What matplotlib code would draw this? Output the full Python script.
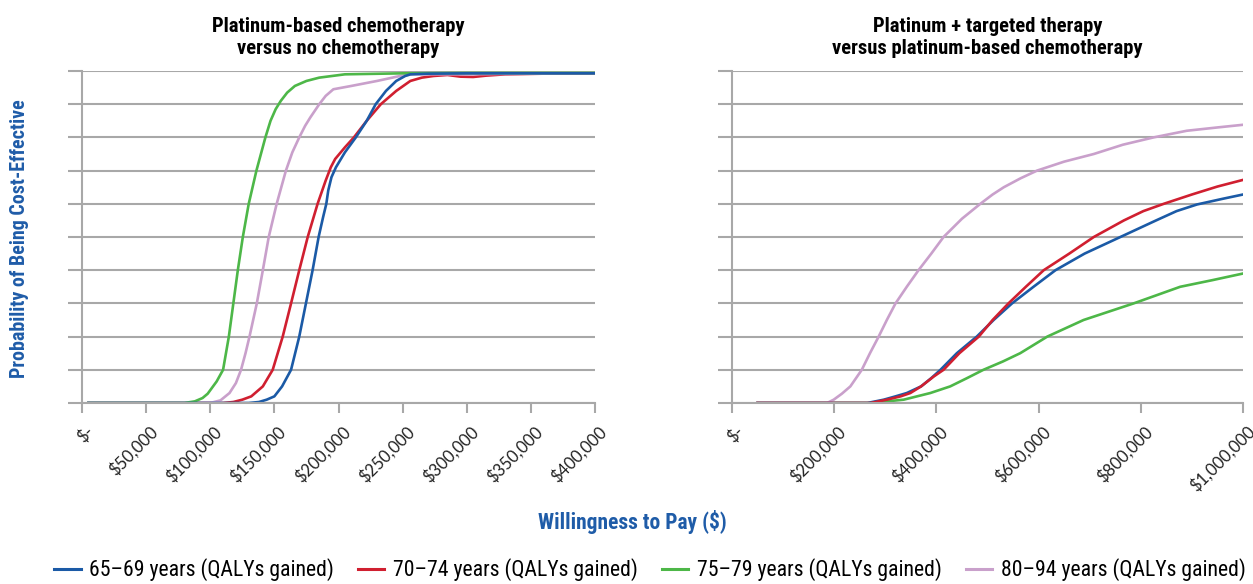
import matplotlib
matplotlib.use("Agg")
import matplotlib.pyplot as plt
from matplotlib import font_manager
from matplotlib.lines import Line2D
from matplotlib.ticker import FuncFormatter
from matplotlib.transforms import ScaledTranslation

# Data (willingness to pay in $1000s, probability)
labels = ['65–69 years (QALYs gained)', '70–74 years (QALYs gained)',
          '75–79 years (QALYs gained)', '80–94 years (QALYs gained)']
colors = ['#1b5aa6', '#d01f30', '#4db748', '#c9a0cb']

# left panel: platinum-based chemo vs no chemo
l_blue_x = [5, 130, 138, 144, 150, 153, 156, 163, 169.4, 174.6, 179.8, 184.5, 188, 190.5, 192, 194.5, 198, 205, 213.5, 222, 229, 237, 245, 252, 256, 270, 300, 350, 400]
l_blue_y = [0, 0, 0.003, 0.01, 0.02, 0.035, 0.05, 0.1, 0.2, 0.3, 0.4, 0.5, 0.56, 0.6, 0.64, 0.68, 0.71, 0.755, 0.8, 0.85, 0.9, 0.94, 0.97, 0.985, 0.99, 0.992, 0.993, 0.993, 0.993]
l_red_x = [5, 110, 118, 125, 132, 141, 148.7, 156.5, 163, 169.4, 176, 183.7, 190, 194, 197.4, 205, 212, 222, 233, 245, 256, 265, 274, 285, 295, 305, 315, 330, 360, 400]
l_red_y = [0, 0, 0.003, 0.01, 0.02, 0.05, 0.1, 0.2, 0.3, 0.4, 0.5, 0.6, 0.67, 0.71, 0.735, 0.77, 0.8, 0.85, 0.9, 0.94, 0.97, 0.98, 0.985, 0.988, 0.983, 0.982, 0.986, 0.99, 0.992, 0.993]
l_green_x = [5, 80, 88, 94, 98, 105, 110, 114.5, 118, 121.5, 125.4, 130, 136, 143, 147, 151, 155, 160, 166, 175, 185, 205, 250, 300, 350, 400]
l_green_y = [0, 0, 0.005, 0.015, 0.028, 0.065, 0.1, 0.2, 0.3, 0.4, 0.5, 0.6, 0.7, 0.8, 0.85, 0.885, 0.91, 0.935, 0.955, 0.97, 0.98, 0.99, 0.993, 0.994, 0.994, 0.994]
l_pink_x = [5, 100, 108, 115, 120, 124, 127.5, 130.6, 136.3, 141, 145.6, 151.8, 159, 164, 169.4, 174, 178, 185, 190, 196, 210, 230, 248, 258, 300, 350, 400]
l_pink_y = [0, 0, 0.008, 0.03, 0.06, 0.1, 0.15, 0.2, 0.3, 0.4, 0.5, 0.6, 0.7, 0.755, 0.8, 0.835, 0.86, 0.9, 0.925, 0.945, 0.955, 0.97, 0.985, 0.99, 0.99, 0.992, 0.993]

# right panel: platinum + targeted therapy vs platinum-based chemo
r_blue_x = [50, 200, 265, 297, 320, 342, 370, 390, 408, 440, 479, 512, 548, 590, 633, 690, 760, 830, 870, 910, 960, 1000]
r_blue_y = [0, 0, 0, 0.01, 0.02, 0.03, 0.05, 0.075, 0.1, 0.15, 0.2, 0.25, 0.3, 0.35, 0.4, 0.45, 0.5, 0.55, 0.578, 0.598, 0.615, 0.628]
r_red_x = [50, 200, 271, 303, 330, 349, 370, 395, 414, 445, 483, 510, 541, 575, 610, 660, 708, 767, 805, 845, 900, 950, 1000]
r_red_y = [0, 0, 0, 0.01, 0.02, 0.03, 0.05, 0.08, 0.1, 0.15, 0.2, 0.25, 0.3, 0.35, 0.4, 0.45, 0.5, 0.55, 0.578, 0.6, 0.628, 0.652, 0.672]
r_green_x = [50, 200, 271, 336, 388, 427, 460, 492, 530, 564, 617, 688, 786, 877, 940, 1000]
r_green_y = [0, 0, 0, 0.01, 0.03, 0.05, 0.075, 0.1, 0.125, 0.15, 0.2, 0.25, 0.3, 0.35, 0.37, 0.39]
r_pink_x = [50, 150, 186, 199, 215, 231.6, 254, 270, 287, 303, 320, 342, 365, 390, 414, 450, 486, 510, 532, 565, 597, 650, 708, 765, 825, 890, 950, 1000]
r_pink_y = [0, 0, 0, 0.01, 0.028, 0.05, 0.1, 0.15, 0.2, 0.25, 0.3, 0.35, 0.4, 0.45, 0.5, 0.555, 0.6, 0.628, 0.65, 0.677, 0.7, 0.727, 0.75, 0.778, 0.8, 0.82, 0.83, 0.838]

left_ticks = [0, 50, 100, 150, 200, 250, 300, 350, 400]
right_ticks = [0, 200, 400, 600, 800, 1000]

# pick a narrow font if one is installed
names = {(f.name, f.stretch) for f in font_manager.fontManager.ttflist}
fam_names = {n for n, s in names}
narrow_fam, narrow_stretch = 'DejaVu Sans', 'normal'
for cand in ['Liberation Sans Narrow', 'Roboto Condensed', 'Open Sans Condensed',
             'Noto Sans Condensed', 'DejaVu Sans Condensed']:
    if cand in fam_names:
        narrow_fam = cand
        break
else:
    for n, s in names:
        if n in ('DejaVu Sans', 'Noto Sans', 'Roboto', 'Open Sans') and s in ('condensed', 'semi-condensed', 'extra-condensed'):
            narrow_fam, narrow_stretch = n, s
            break

narrow = [narrow_fam, 'DejaVu Sans']
blue_txt = '#1f5ca8'
grid_c = '#a8a8a8'


def money(v, pos):
    if v == 0:
        return '$-'
    return '${:,.0f}'.format(v * 1000)


fig = plt.figure(figsize=(12.53, 5.84), dpi=100)
W, H = 1253, 584
ax1 = fig.add_axes([82 / W, 1 - 403 / H, (595 - 82) / W, (403 - 71) / H])
ax2 = fig.add_axes([732 / W, 1 - 403 / H, (1243 - 732) / W, (403 - 71) / H])

lw = 1.9
ax1.plot(l_red_x, l_red_y, color=colors[1], lw=lw)
ax1.plot(l_pink_x, l_pink_y, color=colors[3], lw=lw)
ax1.plot(l_green_x, l_green_y, color=colors[2], lw=lw)
ax1.plot(l_blue_x, l_blue_y, color=colors[0], lw=lw)

ax2.plot(r_green_x, r_green_y, color=colors[2], lw=lw)
ax2.plot(r_pink_x, r_pink_y, color=colors[3], lw=lw)
ax2.plot(r_blue_x, r_blue_y, color=colors[0], lw=lw)
ax2.plot(r_red_x, r_red_y, color=colors[1], lw=lw)

shift = ScaledTranslation(0.09, -0.12, fig.dpi_scale_trans)
for ax, ticks, title in [(ax1, left_ticks, 'Platinum-based chemotherapy\nversus no chemotherapy'),
                         (ax2, right_ticks, 'Platinum + targeted therapy\nversus platinum-based chemotherapy')]:
    ax.set_xlim(ticks[0], ticks[-1])
    ax.set_ylim(0, 1)
    ax.set_xticks(ticks)
    ax.xaxis.set_major_formatter(FuncFormatter(money))
    ax.set_yticks([i / 10 for i in range(11)])
    ax.set_yticklabels([])
    ax.grid(axis='y', color=grid_c, lw=1.5)
    ax.set_axisbelow(True)
    for s in ['top', 'right']:
        ax.spines[s].set_visible(False)
    for s in ['left', 'bottom']:
        ax.spines[s].set_color(grid_c)
        ax.spines[s].set_linewidth(1.5)
    ax.tick_params(axis='y', length=10, width=1.5, color=grid_c)
    ax.tick_params(axis='x', length=7, width=1.5, color=grid_c, pad=3,
                   labelsize=12, labelcolor='#222222')
    for lab in ax.get_xticklabels():
        lab.set_rotation(45)
        lab.set_ha('right')
        lab.set_va('center')
        lab.set_rotation_mode('anchor')
        lab.set_family('Lato')
        lab.set_transform(lab.get_transform() + shift)
    ax.set_title(title, family=narrow, fontstretch=narrow_stretch, fontweight='bold',
                 fontsize=14.9, pad=12, linespacing=1.2)

fig.text(20 / W, 1 - 239 / H, 'Probability of Being Cost-Effective', rotation=90,
         ha='center', va='center', color=blue_txt, family=narrow, fontstretch=narrow_stretch,
         fontweight='bold', fontsize=14.4)
fig.text(632 / W, 1 - 522 / H, 'Willingness to Pay ($)', ha='center', va='center',
         color=blue_txt, family=narrow, fontstretch=narrow_stretch, fontweight='bold',
         fontsize=15.5)

handles = [Line2D([], [], color=c, lw=2.2) for c in colors]
fig.legend(handles, labels, loc='center', bbox_to_anchor=(650 / W, 1 - 570 / H),
           ncol=4, frameon=False,
           prop={'family': narrow, 'stretch': narrow_stretch, 'size': 15.7},
           handlelength=1.2, handletextpad=0.4, columnspacing=1.1)

fig.savefig('out.png', dpi=100)
